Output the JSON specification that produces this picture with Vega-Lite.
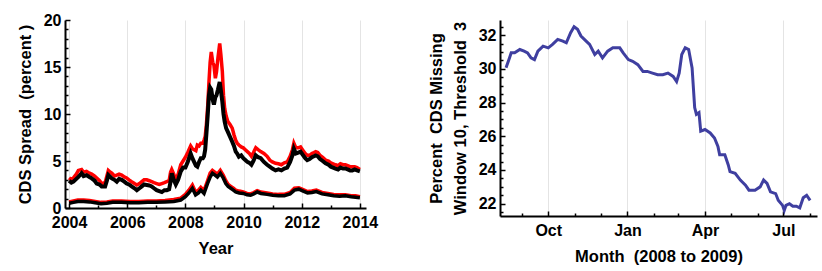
{
"$schema":"https://vega.github.io/schema/vega-lite/v6.json",
"padding":{"left":17,"top":12,"right":5,"bottom":5},
"background":"white",
"config":{"view":{"stroke":null},"axis":{"labelFont":"Liberation Sans","labelFontWeight":"bold","labelFontSize":16,"labelColor":"black","titleFont":"Liberation Sans","titleFontWeight":"bold","titleFontSize":16.5,"titleColor":"black","domainColor":"black","domainWidth":2,"gridColor":"#e4e4e4","gridWidth":1,"tickColor":"black","tickWidth":1.5}},
"datasets":{
"hiB":[{"t":2004.0,"v":2.9},{"t":2004.08,"v":2.7},{"t":2004.15,"v":2.8},{"t":2004.25,"v":3.1},{"t":2004.32,"v":3.3},{"t":2004.43,"v":3.7},{"t":2004.5,"v":3.4},{"t":2004.6,"v":3.5},{"t":2004.7,"v":3.3},{"t":2004.78,"v":3.15},{"t":2004.88,"v":2.9},{"t":2004.95,"v":2.6},{"t":2005.05,"v":2.5},{"t":2005.12,"v":2.3},{"t":2005.24,"v":2.3},{"t":2005.3,"v":2.9},{"t":2005.35,"v":3.5},{"t":2005.42,"v":3.3},{"t":2005.47,"v":3.15},{"t":2005.56,"v":3.0},{"t":2005.64,"v":2.8},{"t":2005.72,"v":3.1},{"t":2005.81,"v":3.0},{"t":2005.9,"v":2.8},{"t":2005.98,"v":2.6},{"t":2006.06,"v":2.5},{"t":2006.15,"v":2.3},{"t":2006.25,"v":2.1},{"t":2006.33,"v":1.9},{"t":2006.42,"v":2.1},{"t":2006.5,"v":2.3},{"t":2006.58,"v":2.5},{"t":2006.67,"v":2.45},{"t":2006.76,"v":2.4},{"t":2006.84,"v":2.3},{"t":2006.92,"v":2.1},{"t":2007.01,"v":1.9},{"t":2007.1,"v":1.8},{"t":2007.19,"v":1.7},{"t":2007.28,"v":1.9},{"t":2007.36,"v":1.9},{"t":2007.44,"v":2.0},{"t":2007.49,"v":2.8},{"t":2007.53,"v":3.7},{"t":2007.6,"v":3.0},{"t":2007.67,"v":2.5},{"t":2007.75,"v":3.0},{"t":2007.84,"v":3.9},{"t":2007.92,"v":4.3},{"t":2008.0,"v":4.3},{"t":2008.08,"v":4.9},{"t":2008.18,"v":5.8},{"t":2008.24,"v":5.3},{"t":2008.3,"v":4.9},{"t":2008.36,"v":4.5},{"t":2008.41,"v":4.4},{"t":2008.47,"v":4.9},{"t":2008.53,"v":5.3},{"t":2008.6,"v":5.3},{"t":2008.64,"v":5.5},{"t":2008.68,"v":6.2},{"t":2008.72,"v":7.8},{"t":2008.77,"v":10.0},{"t":2008.81,"v":12.0},{"t":2008.85,"v":12.8},{"t":2008.89,"v":12.6},{"t":2008.94,"v":11.5},{"t":2008.98,"v":11.0},{"t":2009.03,"v":11.8},{"t":2009.07,"v":12.0},{"t":2009.12,"v":12.6},{"t":2009.18,"v":13.4},{"t":2009.22,"v":12.5},{"t":2009.27,"v":11.3},{"t":2009.31,"v":10.0},{"t":2009.35,"v":9.2},{"t":2009.4,"v":8.5},{"t":2009.46,"v":8.1},{"t":2009.53,"v":7.6},{"t":2009.61,"v":7.05},{"t":2009.67,"v":6.6},{"t":2009.73,"v":6.0},{"t":2009.78,"v":5.8},{"t":2009.84,"v":5.45},{"t":2009.92,"v":5.6},{"t":2009.99,"v":5.3},{"t":2010.06,"v":5.1},{"t":2010.13,"v":4.9},{"t":2010.2,"v":4.8},{"t":2010.27,"v":4.6},{"t":2010.34,"v":5.0},{"t":2010.42,"v":5.6},{"t":2010.5,"v":5.4},{"t":2010.59,"v":5.3},{"t":2010.7,"v":4.9},{"t":2010.81,"v":4.6},{"t":2010.9,"v":4.4},{"t":2010.99,"v":4.2},{"t":2011.1,"v":4.0},{"t":2011.2,"v":4.1},{"t":2011.3,"v":4.0},{"t":2011.4,"v":4.2},{"t":2011.5,"v":4.3},{"t":2011.6,"v":4.9},{"t":2011.68,"v":5.6},{"t":2011.73,"v":6.3},{"t":2011.8,"v":5.8},{"t":2011.88,"v":5.9},{"t":2011.96,"v":6.0},{"t":2012.05,"v":5.6},{"t":2012.12,"v":5.3},{"t":2012.19,"v":5.1},{"t":2012.27,"v":5.2},{"t":2012.35,"v":5.4},{"t":2012.42,"v":5.5},{"t":2012.48,"v":5.6},{"t":2012.55,"v":5.5},{"t":2012.63,"v":5.2},{"t":2012.72,"v":5.0},{"t":2012.82,"v":4.75},{"t":2012.92,"v":4.6},{"t":2013.0,"v":4.4},{"t":2013.08,"v":4.3},{"t":2013.16,"v":4.2},{"t":2013.25,"v":4.1},{"t":2013.33,"v":4.3},{"t":2013.42,"v":4.2},{"t":2013.5,"v":4.2},{"t":2013.58,"v":4.1},{"t":2013.66,"v":4.0},{"t":2013.74,"v":4.0},{"t":2013.82,"v":4.1},{"t":2013.9,"v":4.0},{"t":2014.0,"v":3.9}],
"hiA":[{"t":2004.0,"v":3.2},{"t":2004.08,"v":3.0},{"t":2004.15,"v":3.2},{"t":2004.25,"v":3.6},{"t":2004.32,"v":4.0},{"t":2004.43,"v":4.1},{"t":2004.5,"v":3.8},{"t":2004.6,"v":3.9},{"t":2004.7,"v":3.7},{"t":2004.78,"v":3.6},{"t":2004.88,"v":3.4},{"t":2004.95,"v":3.2},{"t":2005.05,"v":2.9},{"t":2005.12,"v":2.6},{"t":2005.24,"v":2.7},{"t":2005.3,"v":3.4},{"t":2005.35,"v":4.0},{"t":2005.42,"v":3.8},{"t":2005.47,"v":3.7},{"t":2005.56,"v":3.4},{"t":2005.64,"v":3.5},{"t":2005.72,"v":3.6},{"t":2005.81,"v":3.5},{"t":2005.9,"v":3.3},{"t":2005.98,"v":3.2},{"t":2006.06,"v":3.0},{"t":2006.15,"v":2.8},{"t":2006.25,"v":2.6},{"t":2006.33,"v":2.45},{"t":2006.42,"v":2.6},{"t":2006.5,"v":2.8},{"t":2006.58,"v":3.0},{"t":2006.67,"v":3.0},{"t":2006.76,"v":2.9},{"t":2006.84,"v":2.8},{"t":2006.92,"v":2.7},{"t":2007.01,"v":2.6},{"t":2007.1,"v":2.5},{"t":2007.19,"v":2.6},{"t":2007.28,"v":2.7},{"t":2007.36,"v":2.8},{"t":2007.44,"v":2.9},{"t":2007.49,"v":3.8},{"t":2007.53,"v":4.1},{"t":2007.6,"v":3.6},{"t":2007.67,"v":3.0},{"t":2007.75,"v":3.6},{"t":2007.84,"v":4.6},{"t":2007.92,"v":5.0},{"t":2008.0,"v":5.4},{"t":2008.08,"v":5.9},{"t":2008.18,"v":6.6},{"t":2008.24,"v":6.3},{"t":2008.3,"v":6.2},{"t":2008.36,"v":6.1},{"t":2008.41,"v":6.7},{"t":2008.47,"v":6.6},{"t":2008.53,"v":6.9},{"t":2008.6,"v":6.9},{"t":2008.64,"v":7.2},{"t":2008.68,"v":7.6},{"t":2008.72,"v":8.8},{"t":2008.77,"v":11.0},{"t":2008.81,"v":13.4},{"t":2008.85,"v":15.5},{"t":2008.89,"v":16.6},{"t":2008.94,"v":15.5},{"t":2008.98,"v":15.2},{"t":2009.03,"v":13.8},{"t":2009.07,"v":14.5},{"t":2009.12,"v":16.0},{"t":2009.18,"v":17.5},{"t":2009.22,"v":16.3},{"t":2009.27,"v":14.5},{"t":2009.31,"v":12.0},{"t":2009.35,"v":10.6},{"t":2009.4,"v":9.8},{"t":2009.46,"v":9.2},{"t":2009.53,"v":8.9},{"t":2009.61,"v":8.5},{"t":2009.67,"v":7.8},{"t":2009.73,"v":7.2},{"t":2009.78,"v":6.9},{"t":2009.84,"v":6.7},{"t":2009.92,"v":6.5},{"t":2009.99,"v":6.4},{"t":2010.06,"v":6.2},{"t":2010.13,"v":6.0},{"t":2010.2,"v":5.8},{"t":2010.27,"v":5.5},{"t":2010.34,"v":5.9},{"t":2010.42,"v":6.4},{"t":2010.5,"v":6.2},{"t":2010.59,"v":6.0},{"t":2010.7,"v":5.8},{"t":2010.81,"v":5.5},{"t":2010.9,"v":5.1},{"t":2010.99,"v":4.9},{"t":2011.1,"v":4.75},{"t":2011.2,"v":4.7},{"t":2011.3,"v":4.6},{"t":2011.4,"v":4.8},{"t":2011.5,"v":4.9},{"t":2011.6,"v":5.5},{"t":2011.68,"v":6.2},{"t":2011.73,"v":6.9},{"t":2011.8,"v":6.4},{"t":2011.88,"v":6.4},{"t":2011.96,"v":6.5},{"t":2012.05,"v":6.1},{"t":2012.12,"v":5.8},{"t":2012.19,"v":5.6},{"t":2012.27,"v":5.6},{"t":2012.35,"v":5.8},{"t":2012.42,"v":5.9},{"t":2012.48,"v":6.0},{"t":2012.55,"v":5.9},{"t":2012.63,"v":5.6},{"t":2012.72,"v":5.4},{"t":2012.82,"v":5.1},{"t":2012.92,"v":5.0},{"t":2013.0,"v":4.8},{"t":2013.08,"v":4.7},{"t":2013.16,"v":4.6},{"t":2013.25,"v":4.5},{"t":2013.33,"v":4.7},{"t":2013.42,"v":4.6},{"t":2013.5,"v":4.6},{"t":2013.58,"v":4.5},{"t":2013.66,"v":4.4},{"t":2013.74,"v":4.4},{"t":2013.82,"v":4.4},{"t":2013.9,"v":4.3},{"t":2014.0,"v":4.1}],
"loB":[{"t":2004.0,"v":0.5},{"t":2004.15,"v":0.6},{"t":2004.3,"v":0.7},{"t":2004.5,"v":0.7},{"t":2004.7,"v":0.65},{"t":2004.9,"v":0.55},{"t":2005.1,"v":0.45},{"t":2005.3,"v":0.5},{"t":2005.5,"v":0.6},{"t":2005.8,"v":0.6},{"t":2006.1,"v":0.55},{"t":2006.4,"v":0.55},{"t":2006.7,"v":0.6},{"t":2007.0,"v":0.6},{"t":2007.3,"v":0.65},{"t":2007.6,"v":0.7},{"t":2007.84,"v":0.85},{"t":2008.0,"v":1.2},{"t":2008.12,"v":1.6},{"t":2008.24,"v":2.1},{"t":2008.35,"v":1.4},{"t":2008.45,"v":1.6},{"t":2008.53,"v":1.9},{"t":2008.64,"v":1.55},{"t":2008.76,"v":2.6},{"t":2008.85,"v":3.3},{"t":2008.93,"v":3.7},{"t":2009.02,"v":3.5},{"t":2009.1,"v":3.3},{"t":2009.2,"v":3.7},{"t":2009.3,"v":3.2},{"t":2009.39,"v":2.6},{"t":2009.47,"v":2.3},{"t":2009.56,"v":2.1},{"t":2009.65,"v":1.9},{"t":2009.73,"v":1.7},{"t":2009.85,"v":1.6},{"t":2009.99,"v":1.55},{"t":2010.12,"v":1.4},{"t":2010.24,"v":1.35},{"t":2010.35,"v":1.5},{"t":2010.47,"v":1.7},{"t":2010.6,"v":1.55},{"t":2010.81,"v":1.45},{"t":2011.0,"v":1.35},{"t":2011.2,"v":1.3},{"t":2011.4,"v":1.3},{"t":2011.6,"v":1.5},{"t":2011.75,"v":1.9},{"t":2011.9,"v":2.0},{"t":2012.05,"v":1.8},{"t":2012.2,"v":1.6},{"t":2012.35,"v":1.65},{"t":2012.5,"v":1.75},{"t":2012.7,"v":1.5},{"t":2012.9,"v":1.4},{"t":2013.1,"v":1.3},{"t":2013.3,"v":1.25},{"t":2013.5,"v":1.3},{"t":2013.7,"v":1.2},{"t":2013.85,"v":1.15},{"t":2014.0,"v":1.1}],
"loA":[{"t":2004.0,"v":0.65},{"t":2004.15,"v":0.75},{"t":2004.3,"v":0.85},{"t":2004.5,"v":0.85},{"t":2004.7,"v":0.8},{"t":2004.9,"v":0.7},{"t":2005.1,"v":0.6},{"t":2005.3,"v":0.65},{"t":2005.5,"v":0.75},{"t":2005.8,"v":0.75},{"t":2006.1,"v":0.7},{"t":2006.4,"v":0.7},{"t":2006.7,"v":0.75},{"t":2007.0,"v":0.75},{"t":2007.3,"v":0.8},{"t":2007.6,"v":0.9},{"t":2007.84,"v":1.05},{"t":2008.0,"v":1.45},{"t":2008.12,"v":1.9},{"t":2008.24,"v":2.45},{"t":2008.35,"v":1.7},{"t":2008.45,"v":1.9},{"t":2008.53,"v":2.2},{"t":2008.64,"v":1.85},{"t":2008.76,"v":2.9},{"t":2008.85,"v":3.7},{"t":2008.93,"v":4.0},{"t":2009.02,"v":3.8},{"t":2009.1,"v":3.6},{"t":2009.2,"v":4.0},{"t":2009.3,"v":3.5},{"t":2009.39,"v":2.9},{"t":2009.47,"v":2.5},{"t":2009.56,"v":2.3},{"t":2009.65,"v":2.1},{"t":2009.73,"v":1.9},{"t":2009.85,"v":1.8},{"t":2009.99,"v":1.7},{"t":2010.12,"v":1.55},{"t":2010.24,"v":1.5},{"t":2010.35,"v":1.65},{"t":2010.47,"v":1.85},{"t":2010.6,"v":1.7},{"t":2010.81,"v":1.6},{"t":2011.0,"v":1.5},{"t":2011.2,"v":1.45},{"t":2011.4,"v":1.45},{"t":2011.6,"v":1.65},{"t":2011.75,"v":2.1},{"t":2011.9,"v":2.15},{"t":2012.05,"v":1.95},{"t":2012.2,"v":1.75},{"t":2012.35,"v":1.8},{"t":2012.5,"v":1.9},{"t":2012.7,"v":1.65},{"t":2012.9,"v":1.55},{"t":2013.1,"v":1.45},{"t":2013.3,"v":1.4},{"t":2013.5,"v":1.4},{"t":2013.7,"v":1.3},{"t":2013.85,"v":1.3},{"t":2014.0,"v":1.2}],
"miss":[{"d":"2008-08-13","v":30.06},{"d":"2008-08-17","v":30.65},{"d":"2008-08-19","v":30.95},{"d":"2008-08-23","v":30.95},{"d":"2008-08-29","v":31.15},{"d":"2008-09-03","v":31.05},{"d":"2008-09-07","v":30.95},{"d":"2008-09-11","v":30.65},{"d":"2008-09-15","v":30.55},{"d":"2008-09-19","v":31.05},{"d":"2008-09-25","v":31.35},{"d":"2008-10-01","v":31.25},{"d":"2008-10-06","v":31.45},{"d":"2008-10-12","v":31.75},{"d":"2008-10-18","v":31.65},{"d":"2008-10-22","v":31.55},{"d":"2008-10-27","v":32.15},{"d":"2008-10-31","v":32.5},{"d":"2008-11-04","v":32.35},{"d":"2008-11-08","v":31.95},{"d":"2008-11-14","v":31.65},{"d":"2008-11-18","v":31.45},{"d":"2008-11-24","v":30.85},{"d":"2008-11-28","v":31.05},{"d":"2008-12-03","v":30.65},{"d":"2008-12-09","v":31.05},{"d":"2008-12-15","v":31.25},{"d":"2008-12-23","v":31.25},{"d":"2008-12-27","v":30.95},{"d":"2009-01-02","v":30.55},{"d":"2009-01-07","v":30.45},{"d":"2009-01-13","v":30.25},{"d":"2009-01-19","v":29.85},{"d":"2009-01-24","v":29.85},{"d":"2009-01-30","v":29.75},{"d":"2009-02-05","v":29.65},{"d":"2009-02-11","v":29.65},{"d":"2009-02-17","v":29.75},{"d":"2009-02-23","v":29.55},{"d":"2009-02-27","v":29.25},{"d":"2009-03-02","v":29.75},{"d":"2009-03-05","v":30.85},{"d":"2009-03-09","v":31.25},{"d":"2009-03-13","v":31.15},{"d":"2009-03-17","v":30.06},{"d":"2009-03-20","v":27.7},{"d":"2009-03-22","v":27.3},{"d":"2009-03-25","v":27.4},{"d":"2009-03-27","v":26.3},{"d":"2009-04-01","v":26.4},{"d":"2009-04-07","v":26.2},{"d":"2009-04-12","v":25.9},{"d":"2009-04-16","v":25.4},{"d":"2009-04-18","v":24.9},{"d":"2009-04-24","v":24.9},{"d":"2009-04-28","v":24.3},{"d":"2009-04-30","v":23.9},{"d":"2009-05-06","v":23.8},{"d":"2009-05-12","v":23.4},{"d":"2009-05-18","v":23.1},{"d":"2009-05-22","v":22.8},{"d":"2009-05-29","v":22.8},{"d":"2009-06-04","v":23.0},{"d":"2009-06-08","v":23.4},{"d":"2009-06-12","v":23.2},{"d":"2009-06-16","v":22.7},{"d":"2009-06-22","v":22.6},{"d":"2009-06-25","v":22.2},{"d":"2009-06-30","v":21.9},{"d":"2009-07-02","v":21.6},{"d":"2009-07-04","v":21.9},{"d":"2009-07-08","v":22.0},{"d":"2009-07-12","v":21.85},{"d":"2009-07-16","v":21.85},{"d":"2009-07-20","v":21.75},{"d":"2009-07-24","v":22.35},{"d":"2009-07-28","v":22.5},{"d":"2009-08-01","v":22.2}]
},
"hconcat":[
{
"width":301,"height":188,
"layer":[
{"data":{"name":"hiA"},"mark":{"type":"line","color":"#ff0000","strokeWidth":3.5},
 "encoding":{
  "x":{"field":"t","type":"quantitative","scale":{"domain":[2003.86,2014.21],"nice":false,"zero":false},
   "axis":{"values":[2004,2006,2008,2010,2012,2014],"format":"d","title":"Year","ticks":false,"grid":true,"labelPadding":6,"titlePadding":10,"orient":"bottom"}},
  "y":{"field":"v","type":"quantitative","scale":{"domain":[0,20],"nice":false,"zero":false},
   "axis":{"values":[0,5,10,15,20],"title":"CDS Spread\u00a0 (percent )","ticks":false,"grid":false,"labelPadding":4,"titlePadding":10,"orient":"left"}}}},
{"data":{"name":"loA"},"mark":{"type":"line","color":"#ff0000","strokeWidth":3.5},
 "encoding":{"x":{"field":"t","type":"quantitative","axis":null},"y":{"field":"v","type":"quantitative","axis":null}}},
{"data":{"name":"hiB"},"mark":{"type":"line","color":"#000000","strokeWidth":4},
 "encoding":{"x":{"field":"t","type":"quantitative","axis":null},"y":{"field":"v","type":"quantitative","axis":null}}},
{"data":{"name":"loB"},"mark":{"type":"line","color":"#000000","strokeWidth":3.5},
 "encoding":{"x":{"field":"t","type":"quantitative","axis":null},"y":{"field":"v","type":"quantitative","axis":null}}},
{"data":{"name":"loB"},"mark":{"type":"line","opacity":0},
 "encoding":{
  "x":{"field":"t","type":"quantitative","axis":{"values":[2004,2006,2008,2010,2012,2014],"labels":false,"domain":false,"grid":false,"ticks":true,"tickSize":-5,"title":null,"orient":"bottom"}},
  "y":{"field":"v","type":"quantitative","axis":{"values":[0,5,10,15,20],"labels":false,"domain":false,"grid":false,"ticks":true,"tickSize":-5,"title":null,"orient":"left"}}}},
{"data":{"name":"loB"},"mark":{"type":"line","opacity":0},
 "encoding":{
  "x":{"field":"t","type":"quantitative","axis":{"values":[2005,2007,2009,2011,2013],"labels":false,"domain":false,"grid":false,"ticks":true,"tickSize":-3,"title":null,"orient":"bottom"}},
  "y":{"field":"v","type":"quantitative","axis":{"values":[1,2,3,4,6,7,8,9,11,12,13,14,16,17,18,19],"labels":false,"domain":false,"grid":false,"ticks":true,"tickSize":-3,"title":null,"orient":"left"}}}}
],
"resolve":{"axis":{"x":"independent","y":"independent"}}
},
{
"width":317,"height":196,
"data":{"name":"miss"},
"layer":[
{"mark":{"type":"line","color":"#3f3fa0","strokeWidth":3},
 "encoding":{
  "x":{"field":"d","type":"temporal","scale":{"domain":[{"year":2008,"month":8,"date":6},{"year":2009,"month":8,"date":9}],"nice":false},
   "axis":{"values":[{"year":2008,"month":10,"date":1},{"year":2009,"month":1,"date":1},{"year":2009,"month":4,"date":1},{"year":2009,"month":7,"date":1}],"format":"%b","title":"Month\u00a0 (2008 to 2009)","ticks":false,"grid":true,"labelPadding":6,"titlePadding":10,"orient":"bottom"}},
  "y":{"field":"v","type":"quantitative","scale":{"domain":[21.27,32.9],"nice":false,"zero":false},
   "axis":{"values":[22,24,26,28,30,32],"title":["Percent\u00a0 CDS Missing","Window 10, Threshold\u00a0 3"],"titleLineHeight":24,"ticks":false,"grid":false,"labelPadding":4,"titlePadding":10,"orient":"left"}}}},
{"mark":{"type":"line","opacity":0},
 "encoding":{
  "x":{"field":"d","type":"temporal","axis":{"values":[{"year":2008,"month":10,"date":1},{"year":2009,"month":1,"date":1},{"year":2009,"month":4,"date":1},{"year":2009,"month":7,"date":1}],"labels":false,"domain":false,"grid":false,"ticks":true,"tickSize":-5,"title":null,"orient":"bottom"}},
  "y":{"field":"v","type":"quantitative","axis":{"values":[22,24,26,28,30,32],"labels":false,"domain":false,"grid":false,"ticks":true,"tickSize":-5,"title":null,"orient":"left"}}}},
{"mark":{"type":"line","opacity":0},
 "encoding":{
  "x":{"field":"d","type":"temporal","axis":{"values":[{"year":2008,"month":9,"date":1},{"year":2008,"month":11,"date":1},{"year":2008,"month":12,"date":1},{"year":2009,"month":2,"date":1},{"year":2009,"month":3,"date":1},{"year":2009,"month":5,"date":1},{"year":2009,"month":6,"date":1},{"year":2009,"month":8,"date":1}],"labels":false,"domain":false,"grid":false,"ticks":true,"tickSize":-3,"title":null,"orient":"bottom"}},
  "y":{"field":"v","type":"quantitative","axis":{"values":[21.5,22.5,23,23.5,24.5,25,25.5,26.5,27,27.5,28.5,29,29.5,30.5,31,31.5,32.5],"labels":false,"domain":false,"grid":false,"ticks":true,"tickSize":-3,"title":null,"orient":"left"}}}}
],
"resolve":{"axis":{"x":"independent","y":"independent"}}
}
],
"spacing":50
}
